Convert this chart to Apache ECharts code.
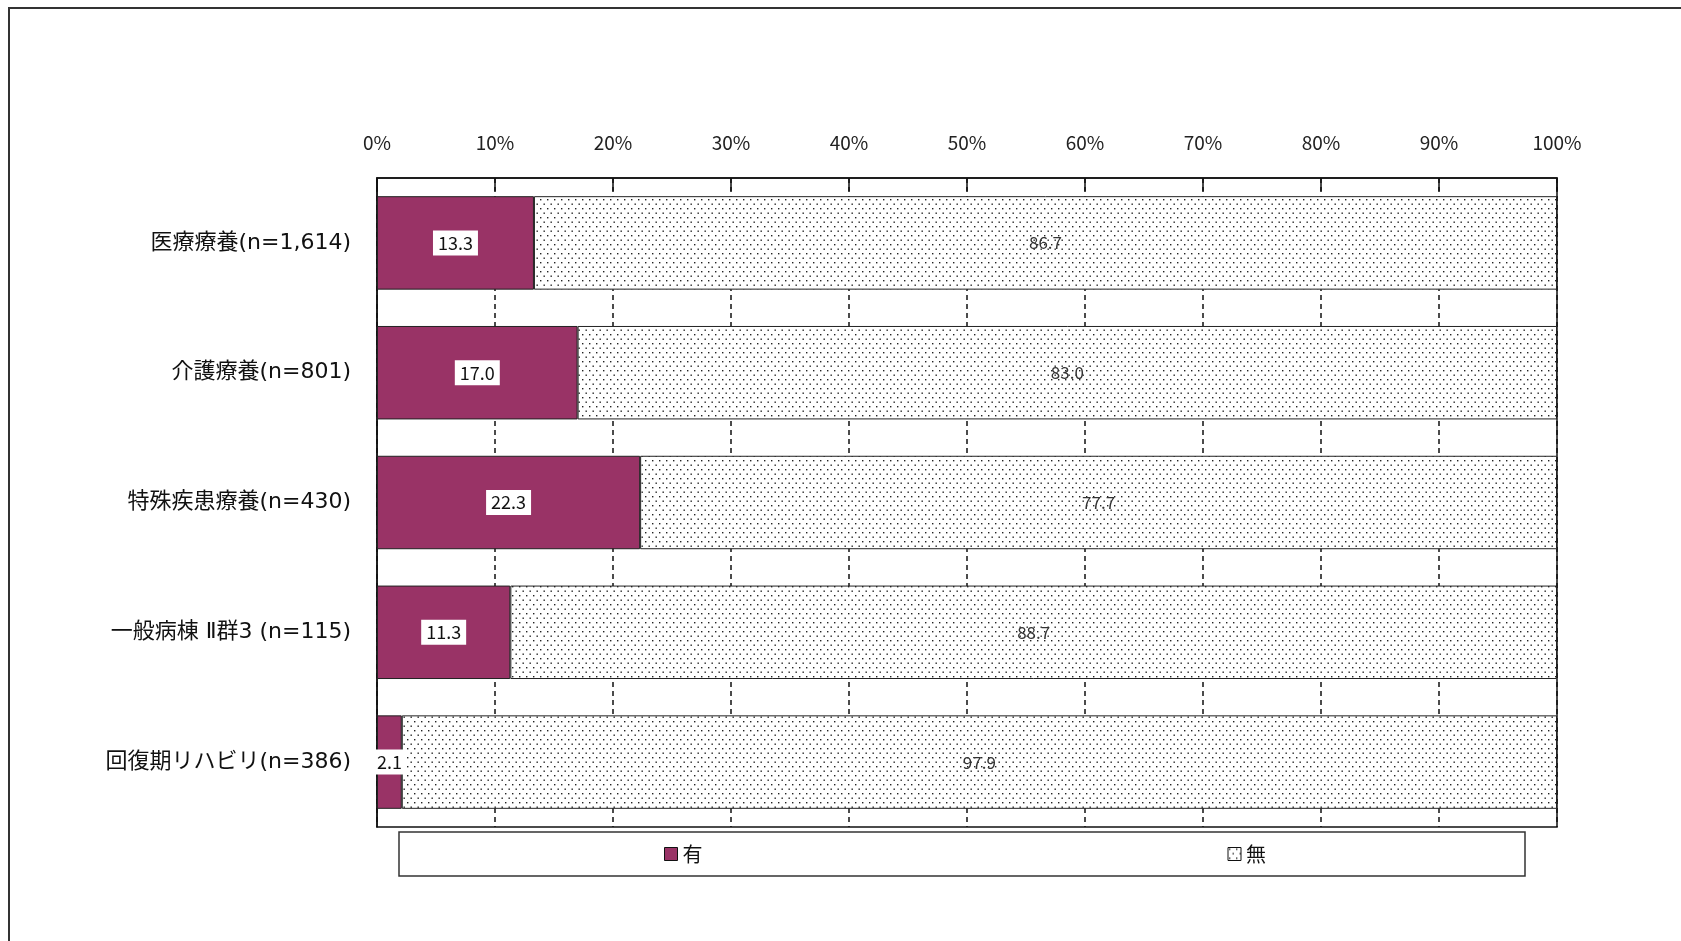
<!DOCTYPE html>
<html>
<head>
<meta charset="utf-8">
<script src="https://cdn.jsdelivr.net/npm/echarts@6/dist/echarts.min.js"></script>
<style>
html,body{margin:0;padding:0;background:#fff;}
#chart{width:1681px;height:941px;}
</style>
</head>
<body>
<div id="chart"></div>
<script>
var categories = ['医療療養(n=1,614)', '介護療養(n=801)', '特殊疾患療養(n=430)', '一般病棟 Ⅱ群3 (n=115)', '回復期リハビリ(n=386)'];
var seriesNames = ['有', '無'];
var valuesYes = [13.3, 17.0, 22.3, 11.3, 2.1];
var valuesNo = [86.7, 83.0, 77.7, 88.7, 97.9];
var tickLabels = ['0%','10%','20%','30%','40%','50%','60%','70%','80%','90%','100%'];

var FONT = '"Noto Sans CJK JP", "Noto Sans", sans-serif';
var CATFONT = '"DejaVu Sans", "Noto Sans CJK JP", sans-serif';

function makeDots() {
  var c = document.createElement('canvas');
  c.width = 7; c.height = 9;
  var ctx = c.getContext('2d');
  ctx.fillStyle = '#ffffff';
  ctx.fillRect(0, 0, 7, 9);
  ctx.fillStyle = '#222222';
  ctx.fillRect(1, 1, 1.4, 1.4);
  ctx.fillRect(4.5, 5.5, 1.4, 1.4);
  return c;
}
var dotPattern = { image: makeDots(), repeat: 'repeat' };

var chart = echarts.init(document.getElementById('chart'));
chart.setOption({
  backgroundColor: '#ffffff',
  animation: false,
  graphic: [{
    type: 'rect',
    shape: { x: 9, y: 8, width: 1700, height: 1000 },
    style: { fill: 'none', stroke: '#333', lineWidth: 2 },
    silent: true
  }],
  grid: {
    left: 377, right: 124, top: 178, bottom: 114,
    show: true, borderColor: '#111', borderWidth: 1.5, backgroundColor: 'transparent'
  },
  legend: {
    left: 399, top: 832,
    padding: [12, 259, 12, 265],
    itemGap: 525,
    itemWidth: 13, itemHeight: 13,
    icon: 'rect',
    borderColor: '#333', borderWidth: 1.5,
    textStyle: { fontFamily: FONT, fontSize: 20, color: '#111' },
    data: [
      { name: seriesNames[0], itemStyle: { borderColor: '#111', borderWidth: 1 } },
      { name: seriesNames[1], itemStyle: { borderColor: '#111', borderWidth: 1 } }
    ]
  },
  xAxis: {
    type: 'value', position: 'top', min: 0, max: 100, interval: 10,
    axisLine: { show: true, lineStyle: { color: '#111', width: 1.5 } },
    axisTick: { show: true, inside: true, length: 13, lineStyle: { color: '#111', width: 1.5 } },
    axisLabel: {
      margin: 26, fontFamily: FONT, fontSize: 19, color: '#222',
      formatter: function (v) { return tickLabels[Math.round(v / 10)]; }
    },
    splitLine: { show: true, lineStyle: { color: '#111', width: 1.5, type: [5, 4] } }
  },
  yAxis: {
    type: 'category', inverse: true, data: categories,
    axisLine: { show: true, lineStyle: { color: '#111', width: 1.5 } },
    axisTick: { show: false },
    axisLabel: { margin: 26, fontFamily: CATFONT, fontSize: 22, color: '#111', padding: [4, 0, 0, 0] }
  },
  series: [
    {
      name: seriesNames[0], type: 'bar', stack: 'total', barCategoryGap: '28%',
      data: valuesYes,
      itemStyle: { color: '#993366', borderColor: '#222', borderWidth: 1 },
      label: {
        show: true, position: 'inside', fontFamily: FONT, fontSize: 18, color: '#111',
        backgroundColor: '#ffffff', padding: [4, 5, 3, 5],
        formatter: function (p) { return p.value.toFixed(1); }
      }
    },
    {
      name: seriesNames[1], type: 'bar', stack: 'total',
      data: valuesNo,
      itemStyle: { color: dotPattern, borderColor: '#222', borderWidth: 1 },
      label: {
        show: true, position: 'inside', fontFamily: FONT, fontSize: 17, color: '#333',
        formatter: function (p) { return p.value.toFixed(1); }
      }
    }
  ]
});
</script>
</body>
</html>
